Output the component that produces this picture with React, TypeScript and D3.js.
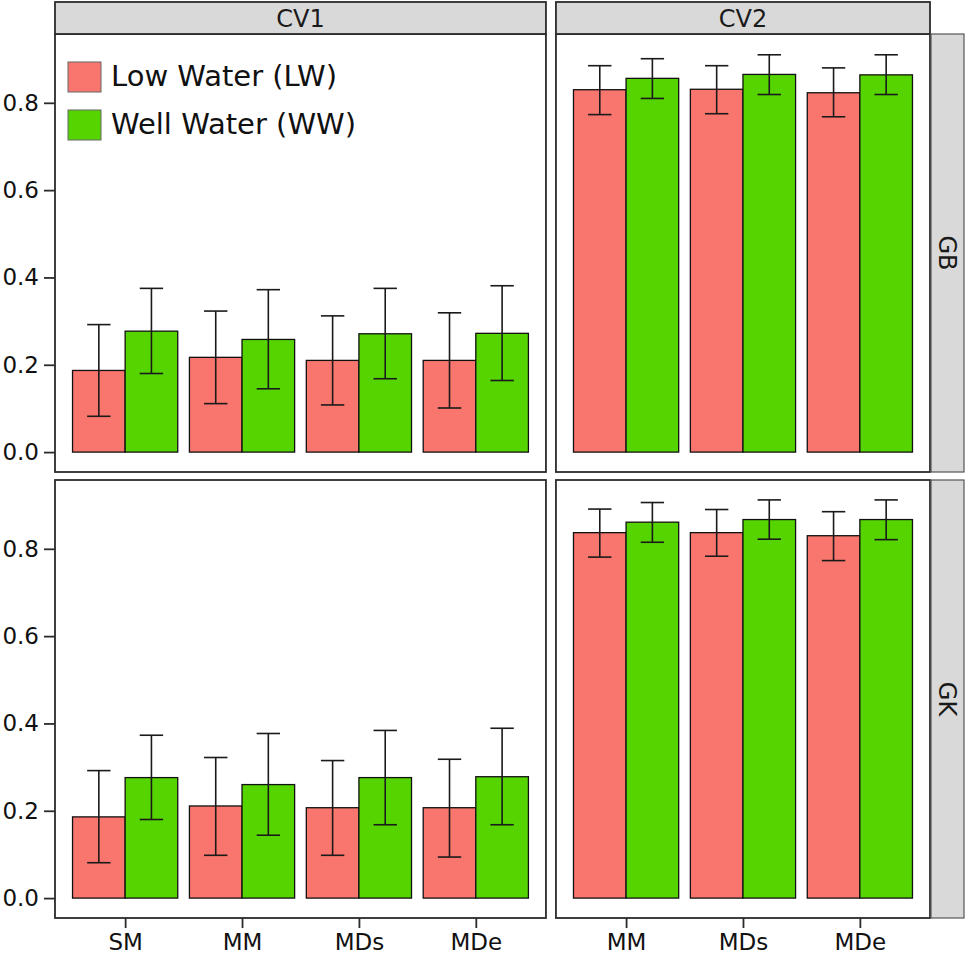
import { useEffect, useRef } from 'react'
import * as d3 from 'd3'

// [mean, lower, upper] per method
const cv1Methods = ['SM', 'MM', 'MDs', 'MDe']
const cv2Methods = ['MM', 'MDs', 'MDe']
const treatments = ['LW', 'WW']
const treatmentLabels = ['Low Water (LW)', 'Well Water (WW)']
const treatmentColors = ['#f8766d', '#55d400']
const columnLabels = ['CV1', 'CV2']
const rowLabels = ['GB', 'GK']
const yTicks = [0, 0.2, 0.4, 0.6, 0.8]

const gbCv1LW = [[0.187, 0.082, 0.292], [0.217, 0.111, 0.323], [0.210, 0.108, 0.312], [0.210, 0.101, 0.319]]
const gbCv1WW = [[0.277, 0.180, 0.375], [0.258, 0.145, 0.372], [0.271, 0.168, 0.375], [0.272, 0.164, 0.381]]
const gbCv2LW = [[0.830, 0.773, 0.885], [0.831, 0.775, 0.885], [0.823, 0.768, 0.880]]
const gbCv2WW = [[0.856, 0.810, 0.901], [0.865, 0.819, 0.910], [0.864, 0.819, 0.910]]
const gkCv1LW = [[0.186, 0.081, 0.292], [0.211, 0.098, 0.322], [0.207, 0.098, 0.315], [0.207, 0.094, 0.318]]
const gkCv1WW = [[0.276, 0.180, 0.373], [0.260, 0.144, 0.377], [0.276, 0.168, 0.384], [0.278, 0.168, 0.389]]
const gkCv2LW = [[0.837, 0.781, 0.891], [0.837, 0.783, 0.890], [0.830, 0.773, 0.885]]
const gkCv2WW = [[0.861, 0.815, 0.906], [0.867, 0.822, 0.912], [0.867, 0.821, 0.912]]

type Row = { method: string; treatment: string; mean: number; lo: number; hi: number }

function toRows(methods: string[], lw: number[][], ww: number[][]): Row[] {
  const rows: Row[] = []
  methods.forEach((m, i) => {
    rows.push({ method: m, treatment: 'LW', mean: lw[i][0], lo: lw[i][1], hi: lw[i][2] })
    rows.push({ method: m, treatment: 'WW', mean: ww[i][0], lo: ww[i][1], hi: ww[i][2] })
  })
  return rows
}

export default function App() {
  const svgRef = useRef<SVGSVGElement>(null)

  useEffect(() => {
    if (!svgRef.current) return
    const svg = d3.select(svgRef.current)
    svg.selectAll('*').remove()

    const font = '"DejaVu Sans", Verdana, sans-serif'
    const border = '#2b2b2b'

    const panels = [
      { col: 0, row: 0, methods: cv1Methods, data: toRows(cv1Methods, gbCv1LW, gbCv1WW) },
      { col: 1, row: 0, methods: cv2Methods, data: toRows(cv2Methods, gbCv2LW, gbCv2WW) },
      { col: 0, row: 1, methods: cv1Methods, data: toRows(cv1Methods, gkCv1LW, gkCv1WW) },
      { col: 1, row: 1, methods: cv2Methods, data: toRows(cv2Methods, gkCv2LW, gkCv2WW) },
    ]

    // layout (free x space, like facet_grid(space = 'free_x'))
    const left = 55
    const right = 930
    const colGap = 10
    const units = [cv1Methods.length - 1 + 1.2, cv2Methods.length - 1 + 1.2]
    const unit = (right - left - colGap) / (units[0] + units[1])
    const colX = [
      [left, left + units[0] * unit],
      [left + units[0] * unit + colGap, right],
    ]
    const rowY = [[34, 472], [480, 918]]
    const stripTop = 2
    const stripRight = 964

    const allVals = panels.flatMap(p => p.data.flatMap(d => [d.hi, d.mean, 0]))
    const maxV = d3.max(allVals)!
    const yDomain = [-0.05 * maxV, maxV * 1.05]

    panels.forEach(p => {
      const [x0, x1] = colX[p.col]
      const [y0, y1] = rowY[p.row]
      const g = svg.append('g')

      const x = d3.scalePoint<string>().domain(p.methods).range([x0, x1]).padding(0.6)
      const step = x.step()
      const dodge = d3.scaleBand<string>().domain(treatments).range([-0.45 * step, 0.45 * step])
      const y = d3.scaleLinear().domain(yDomain).range([y1, y0])
      const color = d3.scaleOrdinal<string, string>().domain(treatments).range(treatmentColors)

      g.append('rect')
        .attr('x', x0).attr('y', y0)
        .attr('width', x1 - x0).attr('height', y1 - y0)
        .attr('fill', '#ffffff')

      g.selectAll('rect.bar')
        .data(p.data)
        .join('rect')
        .attr('class', 'bar')
        .attr('x', d => x(d.method)! + dodge(d.treatment)!)
        .attr('y', d => y(d.mean))
        .attr('width', dodge.bandwidth())
        .attr('height', d => y(0) - y(d.mean))
        .attr('fill', d => color(d.treatment))
        .attr('stroke', '#111')
        .attr('stroke-width', 1.3)

      const capHalf = 0.1 * step
      const eb = g.selectAll('g.err')
        .data(p.data)
        .join('g')
        .attr('class', 'err')
        .attr('stroke', '#1a1a1a')
        .attr('stroke-width', 1.6)
      const cx = (d: Row) => x(d.method)! + dodge(d.treatment)! + dodge.bandwidth() / 2
      eb.append('line')
        .attr('x1', cx).attr('x2', cx)
        .attr('y1', d => y(d.lo)).attr('y2', d => y(d.hi))
      eb.append('line')
        .attr('x1', d => cx(d) - capHalf).attr('x2', d => cx(d) + capHalf)
        .attr('y1', d => y(d.lo)).attr('y2', d => y(d.lo))
      eb.append('line')
        .attr('x1', d => cx(d) - capHalf).attr('x2', d => cx(d) + capHalf)
        .attr('y1', d => y(d.hi)).attr('y2', d => y(d.hi))

      g.append('rect')
        .attr('x', x0).attr('y', y0)
        .attr('width', x1 - x0).attr('height', y1 - y0)
        .attr('fill', 'none')
        .attr('stroke', border)
        .attr('stroke-width', 1.8)

      // y axis on left column
      if (p.col === 0) {
        const ya = g.append('g')
          .attr('transform', `translate(${x0},0)`)
          .call(d3.axisLeft(y).tickValues(yTicks).tickFormat(d3.format('.1f')).tickSize(11).tickPadding(5))
        ya.select('.domain').remove()
        ya.selectAll('line').attr('stroke', border).attr('stroke-width', 1.8)
        ya.selectAll('text')
          .attr('font-family', font).attr('font-size', 23).attr('fill', '#111')
      }

      // x axis on bottom row
      if (p.row === 1) {
        const xa = g.append('g')
          .attr('transform', `translate(0,${y1})`)
          .call(d3.axisBottom(x).tickSize(10).tickPadding(6))
        xa.select('.domain').remove()
        xa.selectAll('line').attr('stroke', border).attr('stroke-width', 1.8)
        xa.selectAll('text')
          .attr('font-family', font).attr('font-size', 23).attr('fill', '#111')
      }

      // top strip
      if (p.row === 0) {
        g.append('rect')
          .attr('x', x0).attr('y', stripTop)
          .attr('width', x1 - x0).attr('height', y0 - stripTop)
          .attr('fill', '#d9d9d9')
          .attr('stroke', border)
          .attr('stroke-width', 1.8)
        g.append('text')
          .attr('x', (x0 + x1) / 2)
          .attr('y', (stripTop + y0) / 2)
          .attr('dy', '0.36em')
          .attr('text-anchor', 'middle')
          .attr('font-family', font).attr('font-size', 24).attr('fill', '#1a1a1a')
          .text(columnLabels[p.col])
      }

      // right strip
      if (p.col === 1) {
        g.append('rect')
          .attr('x', x1 + 1).attr('y', y0)
          .attr('width', stripRight - x1 - 1).attr('height', y1 - y0)
          .attr('fill', '#d9d9d9')
          .attr('stroke', '#555')
          .attr('stroke-width', 1.2)
        const sx = (x1 + 1 + stripRight) / 2
        const sy = (y0 + y1) / 2
        g.append('text')
          .attr('transform', `translate(${sx},${sy}) rotate(90)`)
          .attr('dy', '0.36em')
          .attr('text-anchor', 'middle')
          .attr('font-family', font).attr('font-size', 24).attr('fill', '#1a1a1a')
          .text(rowLabels[p.row])
      }

      // legend inside top-left panel
      if (p.col === 0 && p.row === 0) {
        const legend = g.append('g').attr('transform', `translate(${x0 + 13},${y0 + 28})`)
        treatmentLabels.forEach((label, i) => {
          legend.append('rect')
            .attr('x', 0).attr('y', i * 48)
            .attr('width', 33).attr('height', 30)
            .attr('fill', treatmentColors[i])
            .attr('stroke', '#666')
            .attr('stroke-width', 1)
          legend.append('text')
            .attr('x', 43).attr('y', i * 48 + 14)
            .attr('dy', '0.36em')
            .attr('font-family', font).attr('font-size', 29).attr('fill', '#111')
            .text(label)
        })
      }
    })
  }, [])

  return (
    <svg
      ref={svgRef}
      width={966}
      height={955}
      style={{ position: 'absolute', left: 0, top: 0, background: '#fff' }}
    />
  )
}
